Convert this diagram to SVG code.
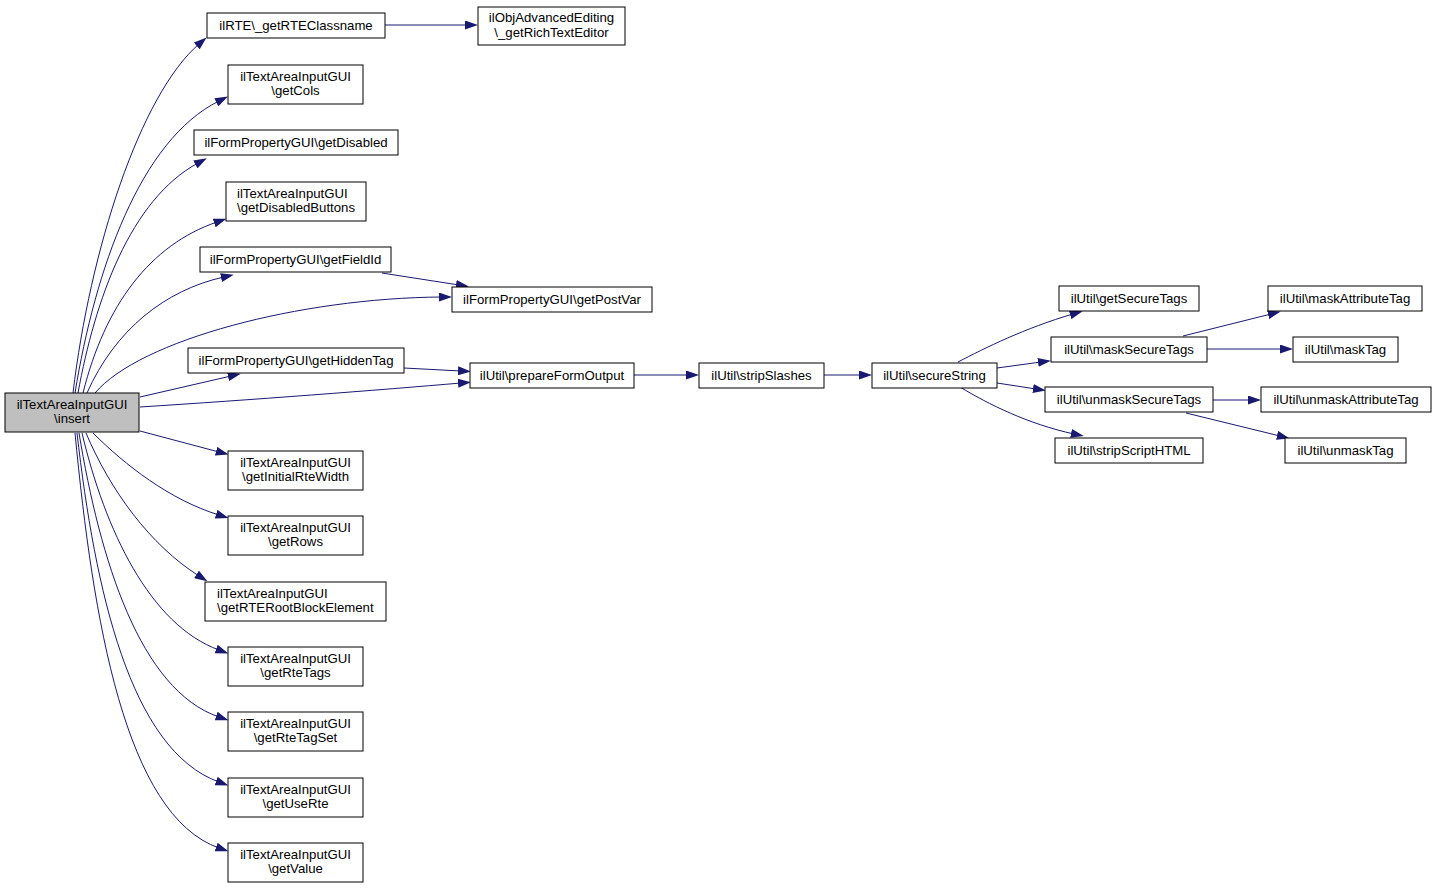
<svg xmlns="http://www.w3.org/2000/svg" width="1436" height="889" viewBox="0 0 1436 889">
<style>
.n rect{fill:#ffffff;stroke:#000000;stroke-width:1}
.n.cur rect{fill:#bfbfbf}
.n text{font-family:"Liberation Sans",Arial,Helvetica,sans-serif;font-size:13.2px;fill:#000000;text-anchor:middle}
.n text.l{text-anchor:start}
.e path{fill:none;stroke:#191970;stroke-width:1;marker-end:url(#ah)}
</style>
<defs>
<marker id="ah" viewBox="0 0 13 9" refX="3" refY="4.5" markerUnits="userSpaceOnUse" markerWidth="13" markerHeight="9" orient="auto">
<path d="M0,0 L13,4.5 L0,9 z" fill="#191970" stroke="none"/>
</marker>
</defs>
<rect width="1436" height="889" fill="#ffffff"/>
<g id="edges" class="e">
<path d="M73,393 C90,250 140,95 199,44"/>
<path d="M75,393 C95,270 140,140 219,101"/>
<path d="M78,393 C95,300 130,200 198,163"/>
<path d="M83,393 C105,305 150,245 217,222"/>
<path d="M87,393 C115,330 165,290 224,277"/>
<path d="M95,393 C140,340 300,298 442,297"/>
<path d="M140,397 L231,376"/>
<path d="M140,407 C250,400 380,390 461,383"/>
<path d="M140,431 L219,452"/>
<path d="M93,433 C125,465 170,500 219,515"/>
<path d="M86,433 C110,490 150,545 199,576"/>
<path d="M82,433 C105,530 150,625 219,650"/>
<path d="M79,433 C100,560 140,690 219,717"/>
<path d="M77,433 C95,590 130,750 219,782"/>
<path d="M75,433 C93,620 125,815 219,848"/>
<path d="M385,25 L468,25"/>
<path d="M382,273 L459,285"/>
<path d="M404,368 L461,371"/>
<path d="M634,375 L689,375"/>
<path d="M824,375 L862,375"/>
<path d="M958,362 C985,348 1025,328 1073,314"/>
<path d="M997,368 L1041,362"/>
<path d="M997,383 L1036,389"/>
<path d="M960,387 C988,404 1028,424 1074,434"/>
<path d="M1183,336 L1271,314"/>
<path d="M1207,349 L1283,349"/>
<path d="M1213,400 L1251,400"/>
<path d="M1186,413 L1280,436"/>
</g>
<g id="n_insert" class="n cur"><rect x="5" y="393" width="134" height="39"/><text x="72" y="409">ilTextAreaInputGUI</text><text x="72" y="423">\insert</text></g>
<g id="n_getRTEClassname" class="n"><rect x="207" y="13" width="178" height="25"/><text x="296" y="30">ilRTE\_getRTEClassname</text></g>
<g id="n_getRichTextEditor" class="n"><rect x="478" y="7" width="147" height="38"/><text x="551.5" y="22">ilObjAdvancedEditing</text><text x="551.5" y="37">\_getRichTextEditor</text></g>
<g id="n_getCols" class="n"><rect x="228" y="65" width="135" height="39"/><text x="295.5" y="81">ilTextAreaInputGUI</text><text x="295.5" y="95">\getCols</text></g>
<g id="n_getDisabled" class="n"><rect x="194" y="130" width="204" height="25"/><text x="296" y="147">ilFormPropertyGUI\getDisabled</text></g>
<g id="n_getDisabledButtons" class="n"><rect x="226" y="182" width="140" height="39"/><text class="l" x="237" y="198">ilTextAreaInputGUI</text><text class="l" x="237" y="212">\getDisabledButtons</text></g>
<g id="n_getFieldId" class="n"><rect x="200" y="247" width="191" height="25"/><text x="295.5" y="264">ilFormPropertyGUI\getFieldId</text></g>
<g id="n_getPostVar" class="n"><rect x="452" y="287" width="200" height="25"/><text x="552" y="304">ilFormPropertyGUI\getPostVar</text></g>
<g id="n_getHiddenTag" class="n"><rect x="188" y="348" width="216" height="25"/><text x="296" y="365">ilFormPropertyGUI\getHiddenTag</text></g>
<g id="n_prepareFormOutput" class="n"><rect x="470" y="363" width="164" height="25"/><text x="552" y="380">ilUtil\prepareFormOutput</text></g>
<g id="n_getInitialRteWidth" class="n"><rect x="228" y="451" width="135" height="39"/><text x="295.5" y="467">ilTextAreaInputGUI</text><text x="295.5" y="481">\getInitialRteWidth</text></g>
<g id="n_getRows" class="n"><rect x="228" y="516" width="135" height="39"/><text x="295.5" y="532">ilTextAreaInputGUI</text><text x="295.5" y="546">\getRows</text></g>
<g id="n_getRTERootBlockElement" class="n"><rect x="205" y="582" width="181" height="39"/><text class="l" x="217" y="598">ilTextAreaInputGUI</text><text class="l" x="217" y="612">\getRTERootBlockElement</text></g>
<g id="n_getRteTags" class="n"><rect x="228" y="647" width="135" height="39"/><text x="295.5" y="663">ilTextAreaInputGUI</text><text x="295.5" y="677">\getRteTags</text></g>
<g id="n_getRteTagSet" class="n"><rect x="228" y="712" width="135" height="39"/><text x="295.5" y="728">ilTextAreaInputGUI</text><text x="295.5" y="742">\getRteTagSet</text></g>
<g id="n_getUseRte" class="n"><rect x="228" y="778" width="135" height="39"/><text x="295.5" y="794">ilTextAreaInputGUI</text><text x="295.5" y="808">\getUseRte</text></g>
<g id="n_getValue" class="n"><rect x="228" y="843" width="135" height="39"/><text x="295.5" y="859">ilTextAreaInputGUI</text><text x="295.5" y="873">\getValue</text></g>
<g id="n_stripSlashes" class="n"><rect x="699" y="363" width="125" height="25"/><text x="761.5" y="380">ilUtil\stripSlashes</text></g>
<g id="n_secureString" class="n"><rect x="872" y="363" width="125" height="25"/><text x="934.5" y="380">ilUtil\secureString</text></g>
<g id="n_getSecureTags" class="n"><rect x="1059" y="286" width="140" height="25"/><text x="1129" y="303">ilUtil\getSecureTags</text></g>
<g id="n_maskSecureTags" class="n"><rect x="1051" y="337" width="156" height="25"/><text x="1129" y="354">ilUtil\maskSecureTags</text></g>
<g id="n_unmaskSecureTags" class="n"><rect x="1045" y="387" width="168" height="25"/><text x="1129" y="404">ilUtil\unmaskSecureTags</text></g>
<g id="n_stripScriptHTML" class="n"><rect x="1055" y="438" width="148" height="25"/><text x="1129" y="455">ilUtil\stripScriptHTML</text></g>
<g id="n_maskAttributeTag" class="n"><rect x="1268" y="286" width="154" height="25"/><text x="1345" y="303">ilUtil\maskAttributeTag</text></g>
<g id="n_maskTag" class="n"><rect x="1293" y="337" width="105" height="25"/><text x="1345.5" y="354">ilUtil\maskTag</text></g>
<g id="n_unmaskAttributeTag" class="n"><rect x="1261" y="387" width="170" height="25"/><text x="1346" y="404">ilUtil\unmaskAttributeTag</text></g>
<g id="n_unmaskTag" class="n"><rect x="1285" y="438" width="121" height="25"/><text x="1345.5" y="455">ilUtil\unmaskTag</text></g>
</svg>
